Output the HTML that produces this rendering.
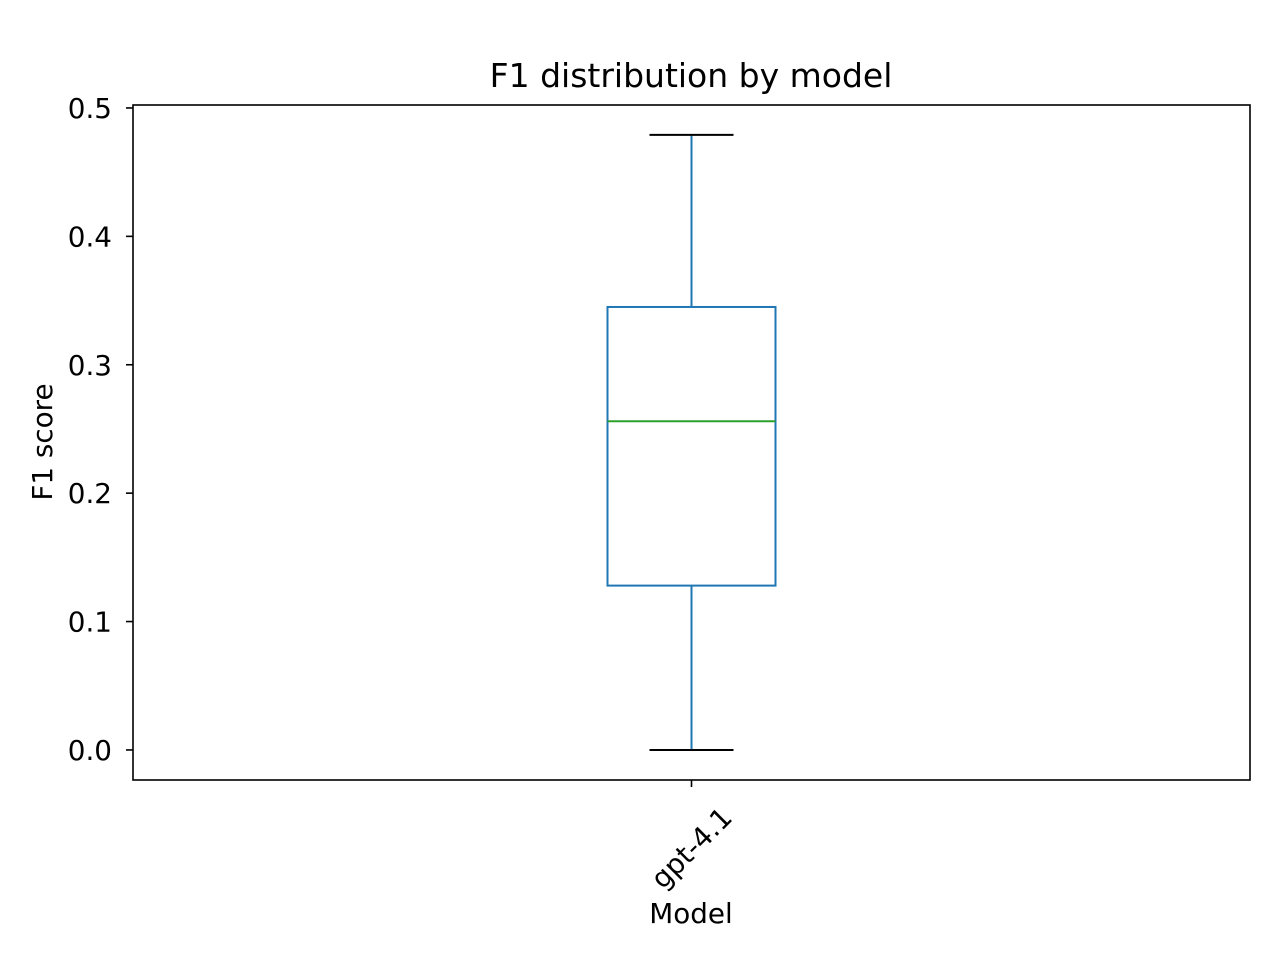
<!DOCTYPE html>
<html><head><meta charset="utf-8"><style>
body{margin:0;background:#fff;}
svg text{font-family:"DejaVu Sans","Liberation Sans",sans-serif;fill:#000;}
</style></head><body>
<svg id="chart" width="1280" height="960" xmlns="http://www.w3.org/2000/svg">
<rect width="1280" height="960" fill="#fff"/>
<text x="691" y="87" font-size="33" text-anchor="middle">F1 distribution by model</text>
<text x="691" y="923" font-size="27.8" text-anchor="middle">Model</text>
<text transform="translate(52,442) rotate(-90)" font-size="27.8" text-anchor="middle">F1 score</text>
<g id="plot"></g>
<rect x="133" y="105" width="1117" height="675" fill="none" stroke="#000" stroke-width="1.6"/>
</svg>
<script>
const categories = ["gpt-4.1"];
const whiskerLow = [0.0];
const q1Values = [0.128];
const medianValues = [0.256];
const q3Values = [0.345];
const whiskerHigh = [0.479];
const yTicks = [0.0, 0.1, 0.2, 0.3, 0.4, 0.5];
const yTickLabels = ["0.0", "0.1", "0.2", "0.3", "0.4", "0.5"];

const NS = "http://www.w3.org/2000/svg";
const L = 133, R = 1250, T = 105, B = 780;
const yMin = -0.0234, yMax = 0.5023;
const y = v => B - (v - yMin) / (yMax - yMin) * (B - T);
const x = i => L + (R - L) * (i + 0.5) / categories.length;
const g = document.getElementById('plot');
function mk(tag, attrs) { const e = document.createElementNS(NS, tag); for (const k in attrs) e.setAttribute(k, attrs[k]); g.appendChild(e); return e; }

yTicks.forEach((t, i) => {
  const tk = mk('line', {x1: L - 7, x2: L, y1: y(t), y2: y(t), stroke: '#000', 'stroke-width': 1.6});
  
  
  const lb = mk('text', {x: L - 21, y: y(t) + 10, 'font-size': 27.8, 'text-anchor': 'end'});
  lb.textContent = yTickLabels[i];
  
  
});

categories.forEach((c, i) => {
  const cx = x(i), hw = 84, cw = 42;
  const tk = mk('line', {x1: cx, x2: cx, y1: B, y2: B + 7, stroke: '#000', 'stroke-width': 1.6});
  
  
  const lb = mk('text', {transform: `translate(${cx},${B + 68}) rotate(-45)`, 'font-size': 27.8, 'text-anchor': 'middle', 'dominant-baseline': 'central'});
  lb.textContent = c;
  
  
  const w1 = mk('line', {x1: cx, x2: cx, y1: y(q3Values[i]), y2: y(whiskerHigh[i]), stroke: '#1f77b4', 'stroke-width': 2});
  
  
  const w2 = mk('line', {x1: cx, x2: cx, y1: y(q1Values[i]), y2: y(whiskerLow[i]), stroke: '#1f77b4', 'stroke-width': 2});
  
  
  const c1 = mk('line', {x1: cx - cw, x2: cx + cw, y1: y(whiskerHigh[i]), y2: y(whiskerHigh[i]), stroke: '#000', 'stroke-width': 2});
  
  
  const c2 = mk('line', {x1: cx - cw, x2: cx + cw, y1: y(whiskerLow[i]), y2: y(whiskerLow[i]), stroke: '#000', 'stroke-width': 2});
  
  
  const bx = mk('rect', {x: cx - hw, y: y(q3Values[i]), width: 2 * hw, height: y(q1Values[i]) - y(q3Values[i]), fill: 'none', stroke: '#1f77b4', 'stroke-width': 2});
  
  
  const md = mk('line', {x1: cx - hw, x2: cx + hw, y1: y(medianValues[i]), y2: y(medianValues[i]), stroke: '#2ca02c', 'stroke-width': 2});
  
  
});
</script>
</body></html>
